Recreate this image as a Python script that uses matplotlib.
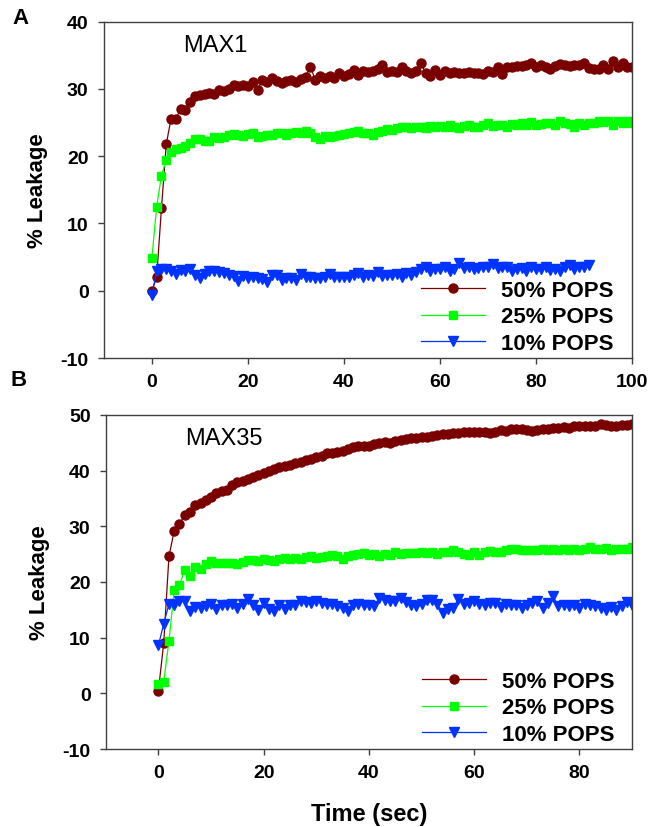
import matplotlib
matplotlib.use("Agg")
import matplotlib.pyplot as plt
import numpy as np

plt.rcParams['font.family'] = ['Liberation Sans', 'DejaVu Sans']
plt.rcParams['axes.unicode_minus'] = False

# ---------------- Panel A (MAX1) ----------------
time_a_50 = list(range(0, 101))
leak_a_50 = [0.0, 2.0, 12.3, 21.8, 25.6, 25.6, 27.0, 26.8, 28.1, 28.9,
             29.1, 29.3, 29.4, 29.2, 29.9, 29.7, 30.0, 30.6, 30.4, 30.6,
             30.5, 31.0, 29.9, 31.3, 31.0, 31.6, 31.2, 30.9, 31.2, 31.4,
             31.1, 31.5, 31.8, 33.3, 31.4, 32.0, 31.7, 31.9, 31.6, 32.3,
             32.0, 32.2, 32.8, 32.1, 32.6, 32.5, 32.6, 33.0, 33.5, 32.5,
             32.6, 32.5, 33.2, 32.7, 32.3, 32.6, 33.9, 32.4, 32.0, 32.8,
             32.1, 32.6, 32.3, 32.5, 32.4, 32.3, 32.5, 32.3, 32.4, 32.2,
             32.7, 32.5, 33.3, 32.2, 33.2, 33.3, 33.4, 33.4, 33.5, 33.9,
             33.3, 33.5, 33.2, 32.9, 33.4, 33.7, 33.5, 33.4, 33.6, 33.5,
             33.8, 33.1, 33.0, 32.9, 33.6, 32.9, 34.2, 33.3, 33.8, 33.2,
             33.2]
time_a_25 = list(range(0, 101))
leak_a_25 = [4.8, 12.5, 17.1, 19.5, 20.6, 21.0, 21.2, 21.5, 22.0, 22.5,
             22.6, 22.3, 22.2, 22.8, 22.7, 22.9, 23.1, 23.3, 23.2, 23.0,
             23.3, 23.4, 22.9, 23.0, 23.2, 23.1, 23.4, 23.5, 23.2, 23.5,
             23.6, 23.5, 23.7, 23.4, 22.9, 22.6, 23.0, 22.8, 23.0, 23.2,
             23.3, 23.5, 23.6, 23.7, 23.5, 23.4, 23.2, 23.6, 23.8, 24.0,
             23.9, 24.2, 24.4, 24.3, 24.2, 24.4, 24.3, 24.2, 24.5, 24.4,
             24.5, 24.3, 24.6, 24.4, 24.2, 24.5, 24.7, 24.3, 24.4, 24.6,
             24.9, 24.5, 24.7, 24.6, 24.3, 24.8, 24.6, 24.9, 24.7, 25.1,
             24.6, 24.8, 24.9, 25.0, 24.7, 25.3, 24.9, 24.8, 24.4, 24.9,
             24.6, 25.0, 24.9, 25.2, 25.1, 25.2, 24.6, 25.3, 25.0, 25.2,
             25.0]
time_a_10 = list(range(0, 92))
leak_a_10 = [-0.7, 3.0, 3.3, 3.2, 3.0, 2.5, 3.1, 2.9, 3.3, 2.3,
             1.9, 2.5, 3.0, 2.9, 2.8, 2.7, 2.4, 2.2, 1.5, 2.2,
             1.9, 2.1, 1.9, 1.7, 1.3, 2.4, 2.4, 1.6, 1.9, 1.9,
             1.6, 2.5, 2.0, 2.0, 1.9, 1.9, 2.1, 2.5, 2.1, 2.0,
             2.1, 2.1, 2.3, 2.7, 2.1, 2.3, 2.2, 2.8, 2.2, 2.4,
             2.4, 2.5, 2.1, 2.7, 2.4, 2.8, 3.2, 3.5, 2.9, 3.2,
             3.3, 3.5, 3.0, 3.3, 4.1, 3.4, 3.6, 3.2, 3.4, 3.6,
             3.5, 4.0, 3.4, 3.6, 3.6, 3.0, 3.3, 3.4, 2.9, 3.5,
             3.2, 3.3, 3.6, 3.1, 3.3, 3.0, 3.5, 3.8, 3.2, 3.6,
             3.6, 3.9]

# ---------------- Panel B (MAX35) ----------------
time_b = list(range(0, 91))
leak_b_50 = [0.5, 9.0, 24.6, 29.2, 30.4, 32.0, 32.5, 33.8, 34.2, 34.8,
             35.2, 35.9, 36.4, 36.6, 37.4, 37.9, 38.2, 38.5, 38.8, 39.2,
             39.5, 39.9, 40.3, 40.6, 40.9, 41.1, 41.3, 41.5, 41.9, 42.1,
             42.4, 42.7, 43.1, 43.2, 43.3, 43.6, 43.9, 44.3, 44.4, 44.4,
             44.5, 44.7, 44.9, 45.1, 45.0, 45.3, 45.5, 45.7, 45.8, 45.9,
             46.1, 46.1, 46.2, 46.4, 46.5, 46.5, 46.7, 46.8, 46.9, 47.0,
             46.9, 46.9, 47.0, 46.8, 47.0, 47.3, 47.2, 47.4, 47.5, 47.4,
             47.3, 47.2, 47.3, 47.5, 47.5, 47.6, 47.7, 47.8, 47.7, 48.0,
             48.0, 48.0, 48.1, 48.0, 48.4, 48.2, 48.1, 48.0, 48.2, 48.2,
             48.3]
leak_b_25 = [1.7, 2.0, 9.4, 18.5, 19.4, 22.2, 21.0, 22.7, 22.3, 23.2,
             23.8, 23.5, 23.4, 23.5, 23.4, 23.2, 23.6, 23.9, 24.0, 23.8,
             24.1, 24.0, 23.8, 24.2, 24.3, 24.1, 24.3, 24.2, 24.5, 24.6,
             24.4, 24.5, 24.6, 24.9, 24.7, 24.1, 24.6, 24.8, 25.0, 25.2,
             24.9, 25.1, 24.7, 25.1, 24.9, 25.3, 25.0, 25.2, 25.2, 25.2,
             25.3, 25.2, 25.3, 25.1, 25.3, 25.4, 25.7, 25.3, 25.0, 24.9,
             25.4, 24.9, 25.4, 25.5, 25.4, 25.4, 25.7, 25.9, 26.0, 25.8,
             25.8, 25.7, 25.8, 25.9, 25.8, 25.9, 25.8, 25.9, 25.8, 26.0,
             25.8, 26.0, 26.2, 26.0, 25.9, 26.1, 25.8, 25.9, 26.0, 26.0,
             26.2]
leak_b_10 = [8.6, 12.5, 16.0, 15.8, 16.5, 16.6, 14.8, 15.5, 15.4, 15.6,
             16.1, 15.2, 15.9, 15.8, 16.0, 15.3, 16.0, 16.9, 15.8, 15.0,
             16.3, 15.1, 14.8, 15.9, 15.2, 15.8, 15.9, 16.5, 16.4, 16.2,
             16.6, 16.3, 16.1, 16.0, 15.6, 15.3, 14.8, 15.8, 16.0, 15.9,
             15.9, 15.6, 17.1, 16.7, 16.5, 16.6, 17.1, 16.4, 15.8, 15.7,
             16.1, 16.7, 16.8, 16.0, 14.5, 15.2, 15.3, 17.0, 16.1, 16.3,
             16.6, 16.0, 15.9, 16.2, 16.2, 15.5, 16.1, 15.9, 15.8, 15.4,
             15.8, 16.2, 16.5, 15.3, 16.2, 17.4, 15.6, 15.8, 15.6, 15.9,
             15.4, 16.0, 15.8, 15.6, 15.4, 15.0, 15.5, 14.9, 15.7, 16.4,
             15.8]

series_labels = ["50% POPS", "25% POPS", "10% POPS"]
panel_titles = ["MAX1", "MAX35"]
panel_letters = ["A", "B"]
x_label = "Time (sec)"
y_label = "% Leakage"

colors = ["#7a0000", "#00ff00", "#0033ff"]
markers = ["o", "s", "v"]
msizes = [6.5, 5.5, 6.5]

fig = plt.figure(figsize=(6.49, 8.28), dpi=100)
ax_a = fig.add_axes([0.160, 0.5664, 0.814, 0.4062])
ax_b = fig.add_axes([0.163, 0.0942, 0.811, 0.4034])

data_a = [(time_a_50, leak_a_50), (time_a_25, leak_a_25), (time_a_10, leak_a_10)]
data_b = [(time_b, leak_b_50), (time_b, leak_b_25), (time_b, leak_b_10)]

spine_col = "#404040"
for ax, data, title, letter, xlim, ylim, xticks, yticks in [
        (ax_a, data_a, panel_titles[0], panel_letters[0], (-10, 100), (-10, 40),
         np.arange(0, 101, 20), np.arange(-10, 41, 10)),
        (ax_b, data_b, panel_titles[1], panel_letters[1], (-10, 90), (-10, 50),
         np.arange(0, 81, 20), np.arange(-10, 51, 10))]:
    for (t, v), c, m, ms, lab in zip(data, colors, markers, msizes, series_labels):
        ax.plot(t, v, color=c, marker=m, markersize=ms, markerfacecolor=c,
                markeredgecolor=c, linewidth=0.9, label=lab)
    ax.set_xlim(*xlim)
    ax.set_ylim(*ylim)
    ax.set_xticks(xticks)
    ax.set_yticks(yticks)
    for s in ax.spines.values():
        s.set_color(spine_col)
        s.set_linewidth(1.0)
    ax.tick_params(direction='out', length=4, width=1, color=spine_col,
                   labelsize=14, pad=7, top=False, right=False)
    for lbl in ax.get_xticklabels() + ax.get_yticklabels():
        lbl.set_fontweight('bold')
    ax.set_ylabel(y_label, fontsize=16, fontweight='bold', labelpad=9)
    ax.text(0.15, 0.93, title, transform=ax.transAxes, fontsize=17,
            ha='left', va='center')
    leg = ax.legend(loc='lower left', bbox_to_anchor=(0.60, 0.012), frameon=False,
                    prop={'weight': 'bold', 'size': 16}, handlelength=2.9,
                    handletextpad=0.7, labelspacing=0.25, borderpad=0,
                    borderaxespad=0)

ax_b.set_xlabel(x_label, fontsize=17, fontweight='bold', labelpad=15)

fig.text(0.019, 0.978, panel_letters[0], fontsize=16, fontweight='bold', ha='left', va='center')
fig.text(0.016, 0.540, panel_letters[1], fontsize=16, fontweight='bold', ha='left', va='center')

fig.savefig("out.png", dpi=100)
